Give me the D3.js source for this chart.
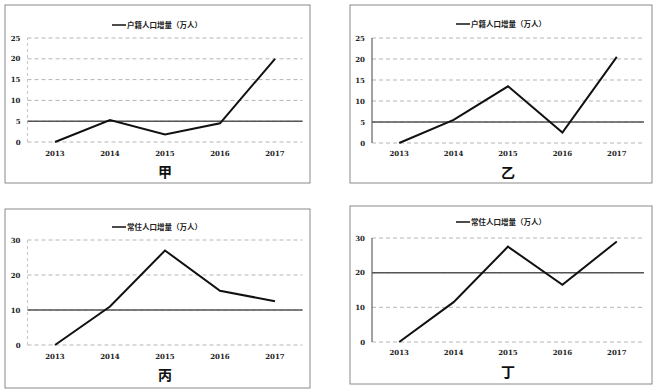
<!DOCTYPE html>
<html>
<head>
<meta charset="utf-8">
<script src="https://cdn.jsdelivr.net/npm/d3@7"></script>
<style>
  body { margin: 0; background: #fff; }
  svg { display: block; }
  .tick-label { font-family: "DejaVu Serif", serif; font-weight: bold; font-size: 7px; fill: #222; }
  .legend-label { font-family: "Noto Sans CJK SC", sans-serif; font-weight: bold; font-size: 7.5px; fill: #222; }
  .panel-title { font-family: "Noto Sans CJK SC", sans-serif; font-weight: bold; font-size: 14px; fill: #111; }
</style>
</head>
<body>
<div id="chart"></div>
<script>
// data
const years = ["2013", "2014", "2015", "2016", "2017"];
const seriesJia = [0, 5.3, 1.8, 4.5, 20];
const seriesYi = [0, 5.5, 13.5, 2.5, 20.5];
const seriesBing = [0, 11, 27, 15.5, 12.5];
const seriesDing = [0, 11.5, 27.5, 16.5, 29];
const panelTitles = ["甲", "乙", "丙", "丁"];
const legendLabels = ["户籍人口增量（万人）", "户籍人口增量（万人）", "常住人口增量（万人）", "常住人口增量（万人）"];
const refValues = [5, 5, 10, 20];
const ticks25 = [0, 5, 10, 15, 20, 25];
const ticks30 = [0, 10, 20, 30];

const width = 660, height = 392;

const svg = d3.select("#chart")
    .append("svg")
    .attr("width", width)
    .attr("height", height);

// layout of each panel (box, plot area, label rows)
const panels = [
    { values: seriesJia, ticks: ticks25, max: 25, box: [5, 5, 310, 183], x: [27.5, 302.5], y: [142, 38],
      solidAxis: false, legendY: 25, legendX: 112, yearY: 156, titleY: 177 },
    { values: seriesYi, ticks: ticks25, max: 25, box: [350, 5, 652, 183], x: [372, 644], y: [143, 38],
      solidAxis: true, legendY: 24, legendX: 456, yearY: 156, titleY: 178 },
    { values: seriesBing, ticks: ticks30, max: 30, box: [5, 209, 310, 388], x: [27.5, 302.5], y: [345, 240],
      solidAxis: false, legendY: 227, legendX: 112, yearY: 359, titleY: 380 },
    { values: seriesDing, ticks: ticks30, max: 30, box: [350, 206, 652, 384], x: [372, 644], y: [342, 238],
      solidAxis: true, legendY: 222, legendX: 456, yearY: 355, titleY: 377 }
];

panels.forEach((p, i) => {
    const g = svg.append("g");

    // outer frame
    g.append("rect")
        .attr("x", p.box[0]).attr("y", p.box[1])
        .attr("width", p.box[2] - p.box[0]).attr("height", p.box[3] - p.box[1])
        .attr("fill", "none")
        .attr("stroke", "#8a8a8a")
        .attr("stroke-width", 1);

    const x = d3.scalePoint().domain(years).range(p.x).padding(0.5);
    const y = d3.scaleLinear().domain([0, p.max]).range(p.y);

    // dashed gridlines
    g.selectAll(".grid")
        .data(p.ticks)
        .enter()
        .append("line")
        .attr("x1", p.x[0]).attr("x2", p.x[1])
        .attr("y1", d => y(d)).attr("y2", d => y(d))
        .attr("stroke", "#b5b5b5")
        .attr("stroke-width", 1)
        .attr("stroke-dasharray", "4,3");

    // y tick labels
    g.selectAll(".tick-label")
        .data(p.ticks)
        .enter()
        .append("text")
        .attr("class", "tick-label")
        .attr("x", p.x[0] - 7)
        .attr("y", d => y(d) + 2.5)
        .attr("text-anchor", "end")
        .text(d => d);

    // y axis line
    g.append("line")
        .attr("x1", p.x[0]).attr("x2", p.x[0])
        .attr("y1", y(0)).attr("y2", y(p.max))
        .attr("stroke", p.solidAxis ? "#444" : "#c4c4c4")
        .attr("stroke-width", 1)
        .attr("stroke-dasharray", p.solidAxis ? null : "3,3");

    // solid reference line
    g.append("line")
        .attr("x1", p.x[0]).attr("x2", p.x[1])
        .attr("y1", y(refValues[i])).attr("y2", y(refValues[i]))
        .attr("stroke", "#555")
        .attr("stroke-width", 1.5);

    // year labels
    g.selectAll(".year-label")
        .data(years)
        .enter()
        .append("text")
        .attr("class", "tick-label")
        .attr("x", d => x(d))
        .attr("y", p.yearY)
        .attr("text-anchor", "middle")
        .text(d => d);

    // the series line
    const line = d3.line()
        .x((d, j) => x(years[j]))
        .y(d => y(d));

    g.append("path")
        .datum(p.values)
        .attr("d", line)
        .attr("fill", "none")
        .attr("stroke", "#111")
        .attr("stroke-width", 2)
        .attr("stroke-linejoin", "miter");

    // legend
    g.append("line")
        .attr("x1", p.legendX).attr("x2", p.legendX + 14)
        .attr("y1", p.legendY).attr("y2", p.legendY)
        .attr("stroke", "#111")
        .attr("stroke-width", 1.5);
    g.append("text")
        .attr("class", "legend-label")
        .attr("x", p.legendX + 15)
        .attr("y", p.legendY + 3)
        .text(legendLabels[i]);

    // panel title
    g.append("text")
        .attr("class", "panel-title")
        .attr("x", x(years[2]))
        .attr("y", p.titleY)
        .attr("text-anchor", "middle")
        .text(panelTitles[i]);
});
</script>
</body>
</html>
